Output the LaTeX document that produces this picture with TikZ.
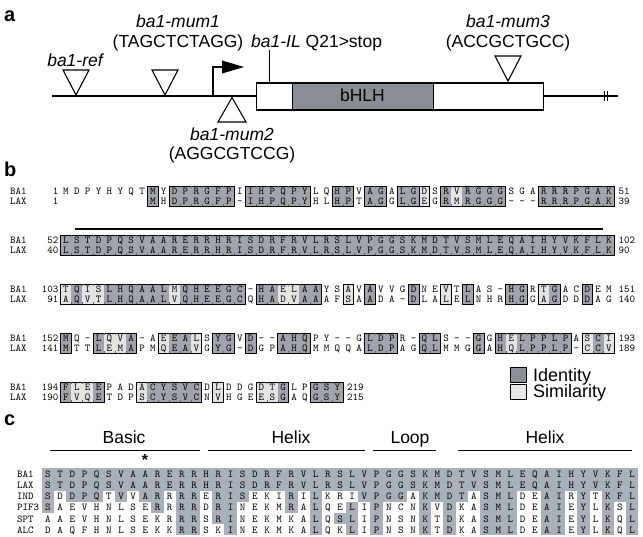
\documentclass[tikz,border=0pt]{standalone}
\usepackage{fontspec}
\setmainfont{Liberation Sans}
\usetikzlibrary{arrows.meta}
\definecolor{bhlhc}{RGB}{137,142,148}
\definecolor{idc}{RGB}{160,165,173}
\definecolor{simc}{RGB}{228,228,228}
\definecolor{cgc}{RGB}{170,176,185}
\definecolor{legid}{RGB}{140,145,151}
\definecolor{legsim}{RGB}{232,232,232}
\newcommand\alnpair[3]{%
  \foreach \a/\b/\t [count=\i] in {#3} {%
    \pgfmathsetmacro\xx{66+(\i-1)*10.86}%
    \ifcase\t\or
      \fill[idc] (\xx-5.5,#1-10) rectangle (\xx+5.5,#1+10);
    \or
      \fill[simc] (\xx-5.5,#1-10) rectangle (\xx+5.5,#1+10);
    \fi
    \node[res] (#2a\i) at (\xx,#1-1.5) {\a};
    \node[res] (#2b\i) at (\xx,#1+8.5) {\b};
  }%
}
\newcommand\alnboxes[2]{%
  \foreach \s/\e in {#2} {%
    \draw[blk] ({66+(\s-1)*10.86-5.43},#1-10) rectangle ({66+(\e-1)*10.86+5.43},#1+10);
    \foreach \k in {\s,...,\e} {%
      \ifnum\k>\s
        \draw[tick] ({66+(\k-1)*10.86-5.43},#1-10) -- ++(0,1.8);
        \draw[tick] ({66+(\k-1)*10.86-5.43},#1+10) -- ++(0,-1.8);
      \fi
    }%
  }%
}
\newcommand\crow[4]{%
  \node[resl] (#3lab) at (17,#1+3.6) {#2};
  \foreach \a/\t [count=\i] in {#4} {%
    \pgfmathsetmacro\xx{48+(\i-1)*12.17}%
    \ifnum\t=1 \fill[cgc] (\xx-6.2,#1-5.7) rectangle (\xx+6.2,#1+5.7);\fi
    \node[res] (#3\i) at (\xx,#1+3.6) {\a};
  }%
}
\begin{document}
\begin{tikzpicture}[x=1pt,y=-1pt,
  sans/.style={inner sep=0pt, font=\fontsize{17.5}{17.5}\selectfont, anchor=base},
  isans/.style={inner sep=0pt, font=\fontsize{17.5}{17.5}\selectfont\itshape, anchor=base},
  plabel/.style={inner sep=0pt, font=\fontsize{20}{20}\selectfont\bfseries, anchor=base west},
  res/.style={inner sep=0pt, font=\ttfamily\fontsize{10.5}{10.5}\selectfont, anchor=base},
  resl/.style={res, anchor=base west},
  resr/.style={res, anchor=base east},
  gene/.style={line width=1.3pt},
  tri/.style={draw, line width=1.1pt, fill=white, line join=miter},
  blk/.style={draw, line width=0.7pt},
  tick/.style={line width=0.4pt, draw=black!60},
]
\useasboundingbox (0,0) rectangle (643,537);
\fill[white] (0,0) rectangle (643,537);
% ---------------- panel a
\node[plabel] (la) at (4,22) {a};
\coordinate (g0) at (52,96);
\coordinate (g1) at (618,96);
\draw[gene] (g0) -- (g1);
\node[draw, line width=1.2pt, fill=white, inner sep=0pt, minimum width=287, minimum height=27, anchor=north west] (cds) at (256,82.5) {};
\node[draw, line width=1.2pt, fill=bhlhc, inner sep=0pt, minimum width=141, minimum height=27, anchor=north west] (bhlh) at (292,82.5) {};
\node[sans] (tbhlh) at (362.5,102) {bHLH};
\draw[line width=1pt] (604,91) -- (604,101) (607.5,91) -- (607.5,101);
% insertion triangles
\draw[tri] (63,70) -- (89,70) -- (76,95) -- cycle;
\draw[tri] (152,70) -- (178,70) -- (165,95) -- cycle;
\draw[tri] (495,56) -- (521,56) -- (508,81) -- cycle;
\draw[tri] (232,97.5) -- (246,122) -- (218,122) -- cycle;
% promoter arrow
\coordinate (p0) at (213,96);
\coordinate (p1) at (213,67);
\draw[line width=1.3pt] (p0) -- (p1) -- (225,67);
\fill (222,60.5) -- (244,67) -- (222,73.5) -- cycle;
% IL tick
\coordinate (il) at (269,50);
\draw[line width=1pt] (il) -- (cds.north west -| il);
% labels
\node[isans] (tref) at (75,67) {ba1-ref};
\node[isans] (tm1) at (178,28) {ba1-mum1};
\node[sans] (tm1s) at (178,48) {(TAGCTCTAGG)};
\node[sans, anchor=base west] (til) at (251,47.5) {\textit{ba1-IL} Q21>stop};
\node[isans] (tm3) at (508,28) {ba1-mum3};
\node[sans] (tm3s) at (508,48) {(ACCGCTGCC)};
\node[isans] (tm2) at (232,141) {ba1-mum2};
\node[sans] (tm2s) at (232,160) {(AGGCGTCCG)};
% ---------------- panel b
\node[plabel] (lb) at (4,177) {b};
\draw[line width=1.2pt] (75,229) -- (603,229);
% row 1
\alnpair{196}{ra}{M/{}/0,D/{}/0,P/{}/0,Y/{}/0,H/{}/0,Y/{}/0,Q/{}/0,T/{}/0,M/M/1,Y/H/0,D/D/1,P/P/1,R/R/1,G/G/1,F/F/1,P/P/1,I/-/0,I/I/1,H/H/1,P/P/1,Q/Q/1,P/P/1,Y/Y/1,L/H/0,Q/L/0,H/H/1,P/P/1,V/T/0,A/A/1,G/G/1,A/G/0,L/L/1,G/G/1,D/E/2,S/G/0,R/R/1,V/M/2,R/R/1,G/G/1,G/G/1,G/G/1,S/-/0,G/-/0,A/-/0,R/R/1,R/R/1,R/R/1,P/P/1,G/G/1,A/A/1,K/K/1}
\alnboxes{196}{9/9,11/16,18/23,26/27,29/30,32/33,34/34,36/41,45/51}
% row 2
\alnpair{245}{rb}{L/L/1,S/S/1,T/T/1,D/D/1,P/P/1,Q/Q/1,S/S/1,V/V/1,A/A/1,A/A/1,R/R/1,E/E/1,R/R/1,R/R/1,H/H/1,R/R/1,I/I/1,S/S/1,D/D/1,R/R/1,F/F/1,R/R/1,V/V/1,L/L/1,R/R/1,S/S/1,L/L/1,V/V/1,P/P/1,G/G/1,G/G/1,S/S/1,K/K/1,M/M/1,D/D/1,T/T/1,V/V/1,S/S/1,M/M/1,L/L/1,E/E/1,Q/Q/1,A/A/1,I/I/1,H/H/1,Y/Y/1,V/V/1,K/K/1,F/F/1,L/L/1,K/K/1}
\alnboxes{245}{1/51}
% row 3
\alnpair{294}{rc}{T/A/2,Q/Q/1,I/V/2,S/T/2,L/L/1,H/H/1,Q/Q/1,A/A/1,A/A/1,L/L/1,M/V/2,Q/Q/1,H/H/1,E/E/1,E/E/1,G/G/1,C/C/1,-/Q/0,H/H/1,A/A/1,E/D/2,L/V/2,A/A/1,A/A/1,Y/A/0,S/F/0,A/S/2,V/A/0,A/A/1,V/D/0,V/A/0,G/-/0,D/D/1,N/L/0,E/A/0,V/L/2,T/E/0,L/L/1,A/N/0,S/H/0,-/R/0,H/H/1,G/G/1,R/G/0,T/A/2,G/G/1,A/D/0,C/D/0,D/D/1,E/A/0,M/G/0}
\alnboxes{294}{1/17,19/24,27/27,29/29,33/33,36/36,38/38,42/43,45/46,49/49}
% row 4
\alnpair{343}{rd}{M/M/1,Q/T/0,-/T/0,L/L/1,Q/E/2,V/M/2,A/A/1,-/P/0,A/M/0,E/Q/2,E/E/1,A/A/1,L/V/2,S/G/0,Y/Y/1,G/G/1,V/-/0,D/D/1,-/G/0,-/P/0,A/A/1,H/H/1,Q/Q/1,P/M/0,Y/M/0,-/Q/0,-/Q/0,G/A/0,L/L/1,D/D/1,P/P/1,R/A/0,-/G/0,Q/Q/1,L/L/1,S/M/0,-/M/0,-/G/0,G/G/1,G/A/0,H/H/1,E/Q/2,L/L/1,P/P/1,P/P/1,L/L/1,P/P/1,A/-/0,S/C/2,C/C/1,I/V/2}
\alnboxes{343}{1/1,4/7,10/13,15/16,18/18,21/23,29/31,34/35,39/39,41/47,49/51}
% row 5
\alnpair{392}{re}{F/F/1,L/V/2,E/Q/2,E/E/1,P/T/0,A/D/0,D/P/0,A/S/2,C/C/1,Y/Y/1,S/S/1,V/V/1,C/C/1,D/N/0,L/V/2,D/H/0,D/G/0,G/E/0,D/E/2,T/S/2,G/G/1,L/A/0,P/Q/0,G/G/1,S/S/1,Y/Y/1}
\alnboxes{392}{1/4,8/13,15/15,19/21,24/26}
% row labels and numbers
\foreach \Y/\na/\nb/\ea/\eb/\xe [count=\j] in {196/1/1/51/39/618.5,245/52/40/102/90/618.5,294/103/91/151/140/618.5,343/152/141/193/189/618.5,392/194/190/219/215/347} {%
  \node[resl] (sa\j) at (10,\Y-1.5) {BA1};
  \node[resl] (sb\j) at (10,\Y+8.5) {LAX};
  \node[resr] (na\j) at (58.5,\Y-1.5) {\na};
  \node[resr] (nb\j) at (58.5,\Y+8.5) {\nb};
  \node[resl] (ea\j) at (\xe,\Y-1.5) {\ea};
  \node[resl] (eb\j) at (\xe,\Y+8.5) {\eb};
}
% legend
\node[draw, line width=1pt, fill=legid, minimum size=15.5, inner sep=0pt, anchor=north west] (kid) at (510,367) {};
\node[draw, line width=1pt, fill=legsim, minimum size=15.5, inner sep=0pt, anchor=north west] (ksim) at (510,384) {};
\node[inner sep=0pt, font=\fontsize{18}{18}\selectfont, anchor=base west] (tid) at (533,381.5) {Identity};
\node[inner sep=0pt, font=\fontsize{18}{18}\selectfont, anchor=base west] (tsim) at (533,398) {Similarity};
% ---------------- panel c
\node[plabel] (lc) at (4,425) {c};
\node[sans] (hb) at (124,443.5) {Basic};
\node[sans] (hh1) at (291,443.5) {Helix};
\node[sans] (hl) at (410,443.5) {Loop};
\node[sans] (hh2) at (545,443.5) {Helix};
\draw[line width=1.1pt] (50,450.5) -- (200,450.5);
\draw[line width=1.1pt] (208,450.5) -- (365,450.5);
\draw[line width=1.1pt] (373,450.5) -- (436,450.5);
\draw[line width=1.1pt] (458,450.5) -- (632,450.5);
\node[inner sep=0pt, font=\fontsize{16}{16}\selectfont\bfseries, anchor=base] (star) at (145,465) {*};
\crow{473.8}{BA1}{ca}{S/1,T/1,D/1,P/1,Q/1,S/1,V/1,A/1,A/1,R/1,E/1,R/1,R/1,H/1,R/1,I/1,S/1,D/1,R/1,F/1,R/1,V/1,L/1,R/1,S/1,L/1,V/1,P/1,G/1,G/1,S/1,K/1,M/1,D/1,T/1,V/1,S/1,M/1,L/1,E/1,Q/1,A/1,I/1,H/1,Y/1,V/1,K/1,F/1,L/1}
\crow{485}{LAX}{cb}{S/1,T/1,D/1,P/1,Q/1,S/1,V/1,A/1,A/1,R/1,E/1,R/1,R/1,H/1,R/1,I/1,S/1,D/1,R/1,F/1,R/1,V/1,L/1,R/1,S/1,L/1,V/1,P/1,G/1,G/1,S/1,K/1,M/1,D/1,T/1,V/1,S/1,M/1,L/1,E/1,Q/1,A/1,I/1,H/1,Y/1,V/1,K/1,F/1,L/1}
\crow{496.1}{IND}{cc}{S/1,D/0,D/1,P/1,Q/1,T/0,V/1,V/0,A/1,R/1,R/0,R/1,R/1,E/0,R/1,I/1,S/1,E/0,K/0,I/0,R/1,I/0,L/1,K/0,R/0,I/0,V/1,P/1,G/1,G/1,A/0,K/1,M/1,D/1,T/1,A/0,S/1,M/1,L/1,D/0,E/0,A/1,I/1,R/0,Y/1,T/0,K/1,F/1,L/1}
\crow{507.3}{PIF3}{cd}{S/1,A/0,E/0,V/0,H/0,N/0,L/0,S/0,E/0,R/1,R/0,R/1,R/1,D/0,R/1,I/1,N/0,E/0,K/0,M/0,R/1,A/0,L/1,Q/0,E/0,L/1,I/0,P/1,N/0,C/0,N/0,K/1,V/0,D/1,K/0,A/0,S/1,M/1,L/1,D/0,E/0,A/1,I/1,E/0,Y/1,L/0,K/1,S/0,L/1}
\crow{518.4}{SPT}{ce}{A/0,A/0,E/0,V/0,H/0,N/0,L/0,S/0,E/0,K/0,R/0,R/1,R/1,S/0,R/1,I/1,N/0,E/0,K/0,M/0,K/0,A/0,L/1,Q/0,S/1,L/1,I/0,P/1,N/0,S/0,N/0,K/1,T/0,D/1,K/0,A/0,S/1,M/1,L/1,D/0,E/0,A/1,I/1,E/0,Y/1,L/0,K/1,Q/0,L/1}
\crow{529.5}{ALC}{cf}{D/0,A/0,Q/0,F/0,H/0,N/0,L/0,S/0,E/0,K/0,K/0,R/1,R/1,S/0,K/0,I/1,N/0,E/0,K/0,M/0,K/0,A/0,L/1,Q/0,K/0,L/1,I/0,P/1,N/0,S/0,N/0,K/1,T/0,D/1,K/0,A/0,S/1,M/1,L/1,D/0,E/0,A/1,I/1,E/0,Y/1,L/0,K/1,Q/0,L/1}
\end{tikzpicture}
\end{document}
